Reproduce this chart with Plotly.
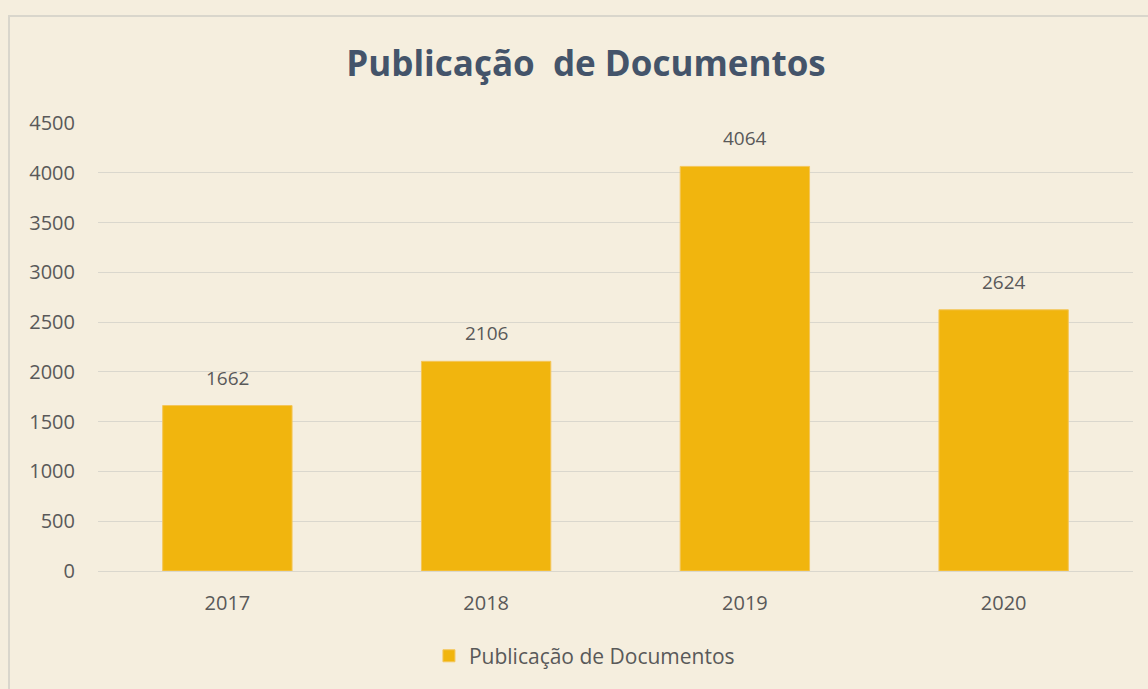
import plotly.graph_objects as go

categories = ["2017", "2018", "2019", "2020"]
values = [1662, 2106, 4064, 2624]
series_name = "Publicação de Documentos"
title_text = "Publicação  de Documentos"
y_ticks = [0, 500, 1000, 1500, 2000, 2500, 3000, 3500, 4000, 4500]

font_family = "Open Sans, Liberation Sans, sans-serif"
text_color = "#595959"

fig = go.Figure()
fig.add_trace(go.Bar(
    x=categories, y=values, name=series_name,
    marker=dict(color="#F1B50E", line=dict(color="#F4C65A", width=1)),
    showlegend=True,
))

for i, v in enumerate(values):
    fig.add_annotation(x=i, y=v, text=str(v), showarrow=False,
                       yanchor="bottom", yshift=13,
                       font=dict(family=font_family, size=19, color=text_color))

fig.add_shape(type="rect", xref="paper", yref="paper",
              x0=-0.086, x1=1.02, y0=-0.28, y1=1.239,
              line=dict(color="#D9D6CC", width=2), fillcolor="rgba(0,0,0,0)", layer="below")

fig.update_layout(
    width=1148, height=689,
    paper_bgcolor="#F5EEDE", plot_bgcolor="#F5EEDE",
    margin=dict(l=98, r=15, t=123, b=118),
    bargap=0.5,
    title=dict(text="<b>" + title_text + "</b>", x=0.4715, xref="paper", xanchor="center",
               y=1 - 64 / 689, yanchor="middle",
               font=dict(family=font_family, size=35, color="#44546A")),
    legend=dict(orientation="h", x=0.47, xanchor="center", y=-0.19, yanchor="middle",
                font=dict(family=font_family, size=21, color=text_color),
                bgcolor="rgba(0,0,0,0)"),
    xaxis=dict(type="category", showgrid=False, showline=False, ticks="", ticklabelstandoff=18,
               tickfont=dict(family=font_family, size=20, color=text_color)),
    yaxis=dict(range=[0, 4500], tickvals=y_ticks, showgrid=True, gridcolor="#DAD7CD",
               gridwidth=1, zeroline=True, zerolinecolor="#DAD7CD", zerolinewidth=1,
               showline=False, ticks="", ticklabelstandoff=22,
               tickfont=dict(family=font_family, size=20, color=text_color)),
)

fig.write_html("out.html", config={"displayModeBar": False},
               post_script="document.body.style.margin='0';document.body.style.overflow='hidden';")
